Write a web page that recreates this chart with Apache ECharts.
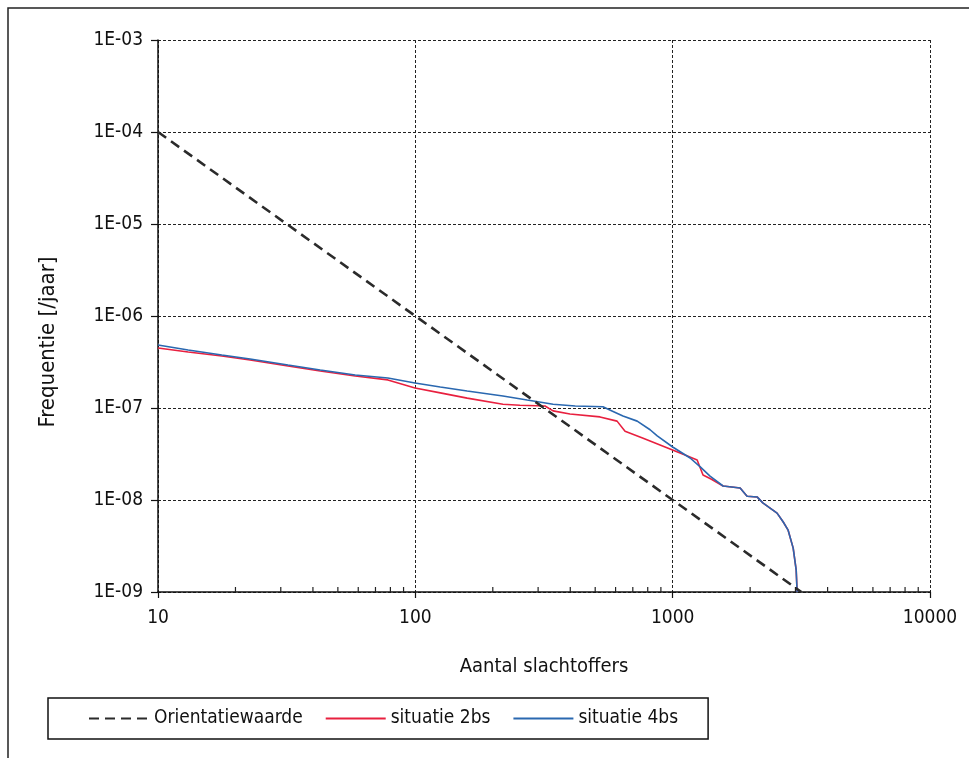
<!DOCTYPE html>
<html>
<head>
<meta charset="utf-8">
<script src="https://cdn.jsdelivr.net/npm/echarts@6/dist/echarts.min.js"></script>
<style>
  html, body { margin: 0; padding: 0; background: #fff; }
  #chart { width: 969px; height: 758px; }
</style>
</head>
<body>
<div id="chart"></div>
<script>
// FN-curve: frequency of accidents with at least N casualties
const seriesNames = ['Orientatiewaarde', 'situatie 2bs', 'situatie 4bs'];
const xTickLabels = ['10', '100', '1000', '10000'];
const yTickLabels = ['1E-09', '1E-08', '1E-07', '1E-06', '1E-05', '1E-04', '1E-03'];
const xMinorTicks = [20, 30, 40, 50, 60, 70, 80, 90,
                     200, 300, 400, 500, 600, 700, 800, 900,
                     2000, 3000, 4000, 5000, 6000, 7000, 8000, 9000];

// Orientatiewaarde (guide value)
const refN = [10, 100, 1000, 3162];
const refF = [1e-4, 1e-6, 1e-8, 1e-9];

// situatie 2bs
const s2N = [10, 13.1, 17.7, 22.8, 32.0, 42.7, 58.4, 78.2, 99.7, 125, 159, 219, 255, 319, 343, 399, 522, 608,
             653, 768, 977, 1117, 1245, 1312, 1409, 1570, 1829, 1946, 2128, 2240, 2545, 2686, 2810, 2940, 3020, 3045];
const s2F = [4.49e-7, 4.06e-7, 3.67e-7, 3.32e-7, 2.86e-7, 2.52e-7, 2.23e-7, 2.02e-7, 1.65e-7, 1.46e-7, 1.28e-7,
             1.10e-7, 1.07e-7, 1.05e-7, 9.3e-8, 8.6e-8, 8.0e-8, 7.2e-8, 5.6e-8, 4.7e-8, 3.58e-8, 3.08e-8, 2.72e-8,
             1.87e-8, 1.69e-8, 1.42e-8, 1.35e-8, 1.10e-8, 1.08e-8, 9.3e-9, 7.2e-9, 5.8e-9, 4.7e-9, 3.0e-9, 1.73e-9, 1e-9];

// situatie 4bs
const s4N = [10, 13.1, 17.7, 22.8, 32.0, 42.7, 58.4, 78.2, 99.7, 125, 159, 219, 272, 343, 418, 536, 581, 641,
             728, 817, 871, 1000, 1169, 1280, 1397, 1570, 1829, 1946, 2128, 2240, 2545, 2686, 2810, 2940, 3020, 3045];
const s4F = [4.84e-7, 4.27e-7, 3.77e-7, 3.41e-7, 2.93e-7, 2.59e-7, 2.28e-7, 2.12e-7, 1.87e-7, 1.69e-7, 1.53e-7,
             1.35e-7, 1.22e-7, 1.10e-7, 1.05e-7, 1.03e-7, 9.3e-8, 8.2e-8, 7.2e-8, 5.8e-8, 4.97e-8, 3.77e-8, 2.86e-8,
             2.29e-8, 1.82e-8, 1.42e-8, 1.35e-8, 1.10e-8, 1.08e-8, 9.3e-9, 7.2e-9, 5.8e-9, 4.7e-9, 3.0e-9, 1.73e-9, 1e-9];

const zip = (a, b) => a.map((v, i) => [v, b[i]]);

const NARROW = '"Liberation Sans Narrow", "DejaVu Sans Condensed", "Liberation Sans", sans-serif';
const TEXT = '#111';

const gridLine = { show: true, lineStyle: { color: '#222', width: 1, type: [3, 2] } };

const chart = echarts.init(document.getElementById('chart'), null, { renderer: 'canvas' });

chart.setOption({
  animation: false,
  backgroundColor: '#fff',
  grid: { left: 158, right: 39, top: 40, bottom: 166, containLabel: false },
  xAxis: {
    type: 'log', logBase: 10, min: 10, max: 10000, interval: 1,
    name: 'Aantal slachtoffers', nameLocation: 'middle', nameGap: 65,
    nameTextStyle: { fontFamily: NARROW, fontSize: 20, color: TEXT },
    axisLine: { show: true, lineStyle: { color: '#111', width: 1.5 } },
    axisTick: { show: true, inside: false, length: 6, lineStyle: { color: '#111', width: 1.2 } },
    axisLabel: {
      margin: 17, fontFamily: NARROW, fontSize: 19, color: TEXT,
      formatter: v => xTickLabels[Math.round(Math.log10(v)) - 1]
    },
    splitLine: gridLine
  },
  yAxis: {
    type: 'log', logBase: 10, min: 1e-9, max: 1e-3, interval: 1,
    axisLine: { show: true, lineStyle: { color: '#111', width: 1.5 } },
    axisTick: { show: true, inside: false, length: 7, lineStyle: { color: '#111', width: 1.2 } },
    axisLabel: {
      margin: 15, fontFamily: NARROW, fontSize: 19, color: TEXT,
      formatter: v => yTickLabels[Math.round(Math.log10(v)) + 9]
    },
    splitLine: gridLine
  },
  legend: {
    data: seriesNames,
    left: 48, top: 698,
    orient: 'horizontal',
    padding: [11, 30, 11, 40],
    itemGap: 22, itemWidth: 60, itemHeight: 14,
    itemStyle: { opacity: 0 },
    borderColor: '#111', borderWidth: 1.5, borderRadius: 0,
    textStyle: { fontFamily: NARROW, fontSize: 19, color: TEXT },
    selectedMode: false
  },
  graphic: [
    {
      type: 'polyline', silent: true,
      shape: { points: [[8, 758], [8, 8], [969, 8]] },
      style: { stroke: '#222', lineWidth: 1.5, fill: null }
    },
    {
      type: 'text', silent: true,
      x: 48, y: 342, rotation: Math.PI / 2,
      style: {
        text: 'Frequentie [/jaar]', fill: TEXT,
        font: '22px "DejaVu Sans Condensed", "Liberation Sans", sans-serif',
        align: 'center', verticalAlign: 'middle'
      }
    }
  ],
  series: [
    {
      name: 'situatie 2bs', type: 'line', data: zip(s2N, s2F),
      symbol: 'none', smooth: false, z: 3,
      lineStyle: { color: '#e8203f', width: 1.6 },
      itemStyle: { color: '#e8203f' }
    },
    {
      name: 'situatie 4bs', type: 'line', data: zip(s4N, s4F),
      symbol: 'none', smooth: false, z: 4,
      lineStyle: { color: '#2a68b0', width: 1.6 },
      itemStyle: { color: '#2a68b0' }
    },
    {
      name: 'Orientatiewaarde', type: 'line', data: zip(refN, refF),
      symbol: 'none', z: 5,
      lineStyle: { color: '#2b2b2b', width: 2.6, type: [10, 6] },
      itemStyle: { color: '#2b2b2b' }
    },
    {
      // minor ticks on the N axis, pointing into the plot
      type: 'custom', silent: true, clip: false, z: 6,
      data: xMinorTicks.map(v => [v, 1e-9]),
      renderItem: (params, api) => {
        const p = api.coord([api.value(0), api.value(1)]);
        return {
          type: 'line',
          shape: { x1: p[0], y1: p[1], x2: p[0], y2: p[1] - 5 },
          style: { stroke: '#222', lineWidth: 1.2 }
        };
      }
    }
  ]
});
</script>
</body>
</html>
